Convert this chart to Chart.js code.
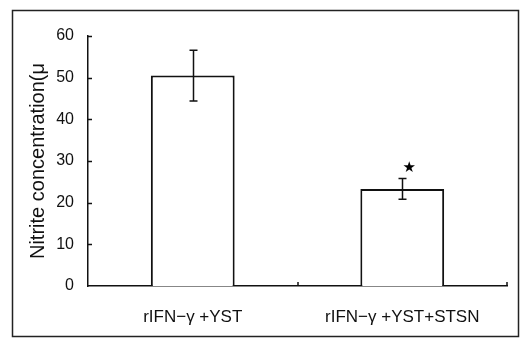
<!DOCTYPE html>
<html>
<head>
<meta charset="utf-8">
<script src="https://cdn.jsdelivr.net/npm/chart.js@4"></script>
<style>
  html, body { margin: 0; padding: 0; background: #fff; }
  canvas { display: block; }
</style>
</head>
<body>
<canvas id="nitrite" width="526" height="342"></canvas>
<script>
// data
const groups = ["rIFN\u2212\u03b3 +YST", "rIFN\u2212\u03b3 +YST+STSN"];
const means = [50.5, 23.3];
const errors = [6.1, 2.5];
const yTicks = [0, 10, 20, 30, 40, 50, 60];
const starAt = [null, 28.3];   // significance marker per group

const font = "'Liberation Sans', Arial, sans-serif";

// frame, inward ticks, error bars and the star
const extras = {
    id: "extras",
    beforeDraw(chart) {
        const ctx = chart.ctx;
        ctx.save();
        ctx.fillStyle = "#fff";
        ctx.fillRect(0, 0, chart.width, chart.height);
        ctx.strokeStyle = "#222";
        ctx.lineWidth = 1.5;
        ctx.strokeRect(12.5, 10.5, 506, 326);
        ctx.restore();
    },
    afterDraw(chart) {
        const ctx = chart.ctx;
        const x = chart.scales.x, y = chart.scales.y;
        const area = chart.chartArea;
        ctx.save();
        ctx.strokeStyle = "#111";
        ctx.lineWidth = 1.5;

        // y ticks pointing into the plot
        yTicks.forEach(function (v) {
            if (v === 0) return;
            const py = Math.round(y.getPixelForValue(v)) + 0.5;
            ctx.beginPath();
            ctx.moveTo(area.left, py);
            ctx.lineTo(area.left + 4, py);
            ctx.stroke();
        });

        // x ticks at category boundaries, pointing up
        for (let i = 1; i <= groups.length; i++) {
            const bx = i === groups.length ? area.right
                : Math.round((x.getPixelForValue(i - 1) + x.getPixelForValue(i)) / 2);
            ctx.beginPath();
            ctx.moveTo(bx, area.bottom);
            ctx.lineTo(bx, area.bottom - 4);
            ctx.stroke();
        }

        // error bars
        means.forEach(function (m, i) {
            const cx = Math.round(x.getPixelForValue(i)) + 0.5;
            const top = y.getPixelForValue(m + errors[i]);
            const bot = y.getPixelForValue(m - errors[i]);
            ctx.beginPath();
            ctx.moveTo(cx, top);
            ctx.lineTo(cx, bot);
            ctx.moveTo(cx - 4, top);
            ctx.lineTo(cx + 4, top);
            ctx.moveTo(cx - 4, bot);
            ctx.lineTo(cx + 4, bot);
            ctx.stroke();
        });

        // star
        ctx.fillStyle = "#000";
        ctx.font = "15px 'DejaVu Sans'";
        ctx.textAlign = "center";
        ctx.textBaseline = "middle";
        starAt.forEach(function (v, i) {
            if (v == null) return;
            ctx.fillText("\u2605", x.getPixelForValue(i) + 7, y.getPixelForValue(v));
        });
        ctx.restore();
    }
};

new Chart(document.getElementById("nitrite"), {
    type: "bar",
    data: {
        labels: groups,
        datasets: [{
            data: means,
            backgroundColor: "#fff",
            borderColor: "#111",
            borderWidth: 2,
            barPercentage: 0.4,
            categoryPercentage: 1.0
        }]
    },
    options: {
        responsive: false,
        animation: false,
        devicePixelRatio: 1,
        layout: { padding: { left: 20, right: 19, top: 36, bottom: 10 } },
        plugins: { legend: { display: false }, tooltip: { enabled: false } },
        scales: {
            x: {
                afterFit(s) { s.height = 46; },
                grid: { display: false, drawTicks: false },
                border: { color: "#111", width: 1.5 },
                ticks: { color: "#111", padding: 21, maxRotation: 0, font: { family: font, size: 17 } }
            },
            y: {
                min: 0,
                max: 60,
                afterFit(s) { s.width = 68; },
                afterBuildTicks(s) { s.ticks = yTicks.map(function (v) { return { value: v }; }); },
                grid: { display: false, drawTicks: false },
                border: { color: "#111", width: 1.5 },
                ticks: { color: "#111", padding: 14, font: { family: font, size: 16 } },
                title: {
                    display: true,
                    text: "Nitrite concentration(\u03bc",
                    color: "#111",
                    padding: { top: 6, bottom: 0 },
                    font: { family: font, size: 20 }
                }
            }
        }
    },
    plugins: [extras]
});
</script>
</body>
</html>
